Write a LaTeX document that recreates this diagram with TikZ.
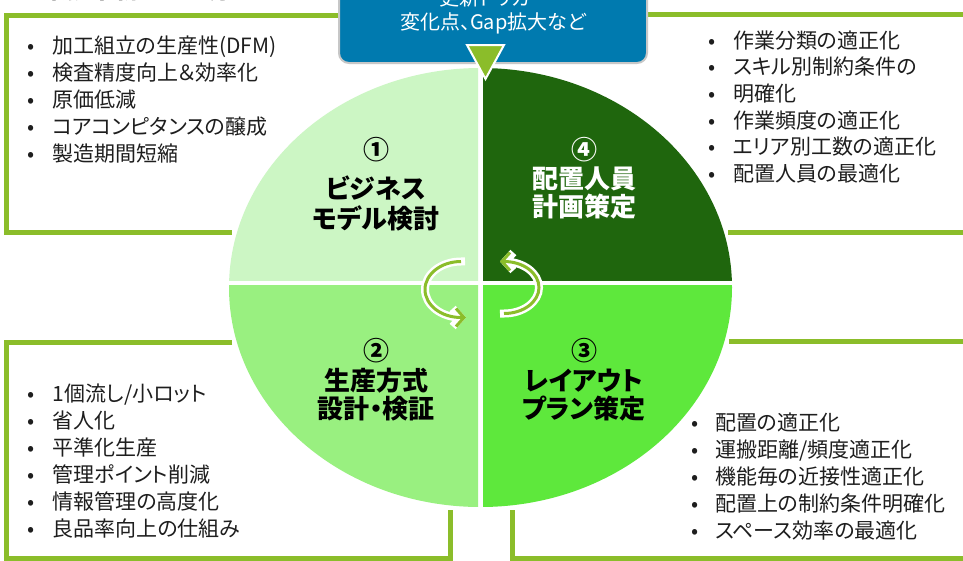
\documentclass[tikz,border=0pt]{standalone}
\usepackage{fontspec}
\setmainfont{Noto Sans CJK JP}[RawFeature={+palt}]
\usetikzlibrary{arrows.meta}
\definecolor{olivegr}{RGB}{139,189,42}
\definecolor{qone}{RGB}{204,246,196}
\definecolor{qtwo}{RGB}{153,240,128}
\definecolor{qthree}{RGB}{94,232,60}
\definecolor{qfour}{RGB}{31,102,13}
\definecolor{trigblue}{RGB}{0,122,175}
\definecolor{txt}{RGB}{30,30,30}
\tikzset{
  frame/.style={draw=olivegr, line width=5pt, line join=miter},
  li/.style={anchor=base west, inner sep=0pt, font=\fontsize{21}{25}\selectfont, text=txt},
  bul/.style={anchor=base, inner sep=0pt, font=\fontsize{21}{25}\selectfont, text=txt},
  lbl/.style={anchor=base, inner sep=0pt, font=\fontsize{26}{30}\selectfont\bfseries},
  bluetxt/.style={anchor=base, inner sep=0pt, font=\fontsize{20}{24}\selectfont, text=white},
  cycw/.style={draw=white, line width=8pt, line cap=rect, -{Straight Barb[length=8pt,width=18pt]}},
  cycg/.style={draw=olivegr, line width=3pt, -{Straight Barb[length=8pt,width=18pt]}},
}
\begin{document}
\begin{tikzpicture}[x=1pt,y=-1pt]
\useasboundingbox (0,0) rectangle (963,560);
\fill[white] (0,0) rectangle (963,560);
% cut-off title
\node[anchor=base, inner sep=0pt, font=\fontsize{24}{28}\selectfont\bfseries] (title) at (138,-2) {業務革新の進め方};
% frames
\draw[frame] (345,15.5) -- (6.5,15.5) -- (6.5,232.5) -- (232,232.5);
\draw[frame] (640,14.5) -- (975,14.5);
\draw[frame] (728,232.5) -- (975,232.5);
\draw[frame] (232,342.5) -- (6.5,342.5) -- (6.5,558) -- (450.5,558) -- (450.5,510);
\draw[frame] (512.5,510) -- (512.5,558) -- (975,558);
\draw[frame] (729,341.5) -- (975,341.5);
% quadrants
\begin{scope}\clip (0,0) rectangle (478,280.5);
\fill[qone] (480.5,287.5) ellipse [x radius=251.5, y radius=219.5];\end{scope}
\begin{scope}\clip (483,0) rectangle (963,280.5);
\fill[qfour] (480.5,287.5) ellipse [x radius=251.5, y radius=219.5];\end{scope}
\begin{scope}\clip (0,285.5) rectangle (478,560);
\fill[qtwo] (480.5,287.5) ellipse [x radius=251.5, y radius=219.5];\end{scope}
\begin{scope}\clip (483,285.5) rectangle (963,560);
\fill[qthree] (480.5,287.5) ellipse [x radius=251.5, y radius=219.5];\end{scope}
% trigger box
\node[draw=black!22, line width=2pt, fill=trigblue, rounded corners=10pt,
  minimum width=308pt, minimum height=84pt, inner sep=0pt] (trig) at (493,21) {};
\node[bluetxt] (trig1) at (485,5) {更新トリガ};
\node[bluetxt] (trig2) at (493,29.3) {変化点、Gap拡大など};
\draw[draw=white, line width=2pt, fill=olivegr, line join=miter] (467,45) -- (504,45) -- (485.5,79) -- cycle;
% lists
\foreach \t [count=\i] in {加工組立の生産性(DFM),検査精度向上＆効率化,原価低減,コアコンピタンスの醸成,製造期間短縮}{
  \node[bul] (tlb\i) at (31,{53+27*(\i-1)}) {•};
  \node[li] (tl\i) at (52,{53+27*(\i-1)}) {\t};
}
\foreach \t [count=\i] in {作業分類の適正化,スキル別制約条件の,明確化,作業頻度の適正化,エリア別工数の適正化,配置人員の最適化}{
  \node[bul] (trb\i) at (712,{48+26.7*(\i-1)}) {•};
  \node[li] (tr\i) at (733,{48+26.7*(\i-1)}) {\t};
}
\foreach \t [count=\i] in {1個流し/小ロット,省人化,平準化生産,管理ポイント削減,情報管理の高度化,良品率向上の仕組み}{
  \node[bul] (blb\i) at (31,{401.3+27*(\i-1)}) {•};
  \node[li] (bl\i) at (52.5,{401.3+27*(\i-1)}) {\t};
}
\foreach \t [count=\i] in {配置の適正化,運搬距離/頻度適正化,機能毎の近接性適正化,配置上の制約条件明確化,スペース効率の最適化}{
  \node[bul] (brb\i) at (695,{430.7+26.83*(\i-1)}) {•};
  \node[li] (br\i) at (715,{430.7+26.83*(\i-1)}) {\t};
}
% quadrant labels
\node[lbl] (n1) at (376,159) {①};
\node[lbl] (n1a) at (376,198.3) {ビジネス};
\node[lbl] (n1b) at (376,228) {モデル検討};
\node[lbl, text=white] (n4) at (584,159) {④};
\node[lbl, text=white] (n4a) at (584,188.5) {配置人員};
\node[lbl, text=white] (n4b) at (584,216.5) {計画策定};
\node[lbl] (n2) at (376,360.5) {②};
\node[lbl] (n2a) at (376,390) {生産方式};
\node[lbl] (n2b) at (376,418) {設計・検証};
\node[lbl] (n3) at (584,360.7) {③};
\node[lbl] (n3a) at (584,390) {レイアウト};
\node[lbl] (n3b) at (584,418.3) {プラン策定};
% cycle arrows
\draw[cycw] (461,261.5) arc[start angle=270, end angle=90, x radius=36, y radius=28] -- ++(5,0);
\draw[cycg] (461,261.5) arc[start angle=270, end angle=90, x radius=36, y radius=28] -- ++(5,0);
\draw[cycw] (504,313.5) arc[start angle=90, end angle=-90, x radius=35, y radius=26] -- ++(-4,0);
\draw[cycg] (504,313.5) arc[start angle=90, end angle=-90, x radius=35, y radius=26] -- ++(-4,0);
\end{tikzpicture}
\end{document}
